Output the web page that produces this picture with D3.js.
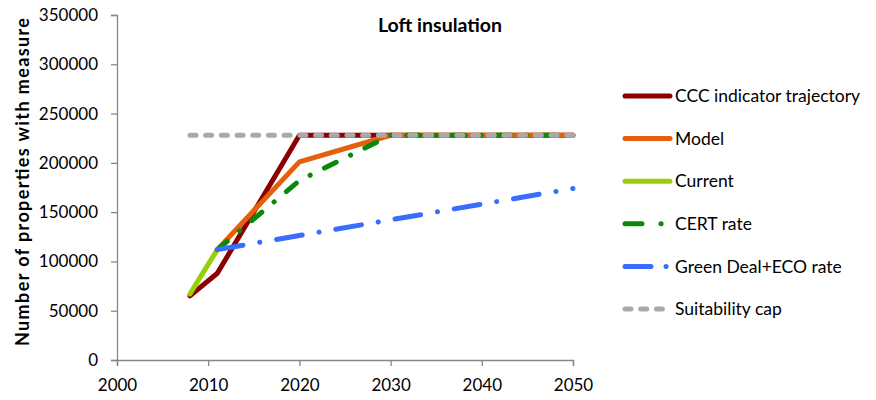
<!DOCTYPE html>
<html>
<head>
<meta charset="utf-8">
<script src="https://cdn.jsdelivr.net/npm/d3@7"></script>
<style>
  body { margin: 0; background: #fff; }
  svg text { font-family: Lato, "Open Sans", sans-serif; fill: #000; }
</style>
</head>
<body>
<svg id="chart" width="876" height="400"></svg>
<script>
// Loft insulation: cumulative properties with measure, by scenario
const xTicks = [2000, 2010, 2020, 2030, 2040, 2050];
const yTicks = [0, 50000, 100000, 150000, 200000, 250000, 300000, 350000];

const cccYears = [2008, 2011, 2020, 2050];
const cccValues = [65000, 88000, 228000, 228000];

const modelYears = [2011, 2020, 2030, 2050];
const modelValues = [112000, 201000, 228000, 228000];

const currentYears = [2008, 2009, 2010, 2011];
const currentValues = [67000, 82000, 97000, 112000];

const certYears = [2011, 2020, 2030, 2050];
const certValues = [112000, 182000, 228000, 228000];

const greenDealYears = [2011, 2050];
const greenDealValues = [112000, 174000];

const capYears = [2008, 2050];
const capValues = [228000, 228000];

const seriesNames = ["CCC indicator trajectory", "Model", "Current", "CERT rate", "Green Deal+ECO rate", "Suitability cap"];

const styles = [
  { color: "#8b0000", dash: null },
  { color: "#e4600a", dash: null },
  { color: "#9acd0a", dash: null },
  { color: "#078a07", dash: "13,16,0.1,16" },
  { color: "#3a6cff", dash: "26,17,0.1,17" },
  { color: "#a9a9a9", dash: "6,9.7" }
];

const series = [
  [cccYears, cccValues],
  [modelYears, modelValues],
  [currentYears, currentValues],
  [certYears, certValues],
  [greenDealYears, greenDealValues],
  [capYears, capValues]
].map(([xs, ys], i) => ({
  name: seriesNames[i],
  points: xs.map((x, j) => ({ x, y: ys[j] })),
  ...styles[i]
}));

const svg = d3.select("#chart");
const x = d3.scaleLinear().domain([2000, 2050]).range([117, 573]);
const y = d3.scaleLinear().domain([0, 350000]).range([360, 15]);

const axisColor = "#868686";

// Axes
const gx = svg.append("g").attr("transform", `translate(0,${y(0)})`)
  .call(d3.axisBottom(x).tickValues(xTicks).tickFormat(d3.format("d")).tickSize(6).tickPadding(9));
const gy = svg.append("g").attr("transform", `translate(${x(2000)},0)`)
  .call(d3.axisLeft(y).tickValues(yTicks).tickFormat(d3.format("d")).tickSize(6).tickPadding(13));
[gx, gy].forEach(g => {
  g.select(".domain").attr("stroke", axisColor).attr("stroke-width", 1.3);
  g.selectAll(".tick line").attr("stroke", axisColor).attr("stroke-width", 1.3);
  g.selectAll(".tick text").attr("font-size", 17).attr("font-family", "Lato, sans-serif").attr("fill", "#000");
});
gx.selectAll(".tick text").attr("dy", "0.95em");

// Lines
const line = d3.line().x(d => x(d.x)).y(d => y(d.y));
svg.append("g").selectAll("path").data(series).join("path")
  .attr("d", d => line(d.points))
  .attr("fill", "none")
  .attr("stroke", d => d.color)
  .attr("stroke-width", 5)
  .attr("stroke-linecap", "round")
  .attr("stroke-linejoin", "round")
  .attr("stroke-dasharray", d => d.dash);

// Title
svg.append("text").attr("x", 440).attr("y", 32).attr("text-anchor", "middle")
  .attr("font-size", 19.5).attr("font-weight", "bold").text("Loft insulation");

// Y-axis title
svg.append("text")
  .attr("transform", `translate(29,${182}) rotate(-90)`)
  .attr("text-anchor", "middle").attr("font-size", 18).attr("font-weight", "bold")
  .attr("textLength", 328).attr("lengthAdjust", "spacing")
  .text("Number of properties with measure");

// Legend
const legend = svg.append("g");
const rows = legend.selectAll("g").data(series).join("g")
  .attr("transform", (d, i) => `translate(625,${96 + i * 42.6})`);
rows.append("line")
  .attr("x1", 0).attr("x2", 45).attr("y1", 0).attr("y2", 0)
  .attr("stroke", d => d.color).attr("stroke-width", 5)
  .attr("stroke-linecap", "round")
  .attr("stroke-dasharray", (d, i) => i === 3 ? "17,19,0.1,40" : i === 4 ? "26,15,0.1,40" : d.dash);
rows.append("text").attr("x", 50).attr("y", 0).attr("dy", "0.35em")
  .attr("font-size", 17.5).text(d => d.name);
</script>
</body>
</html>
